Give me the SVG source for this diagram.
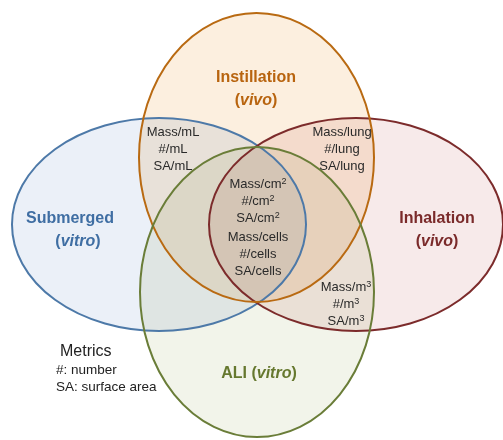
<svg xmlns="http://www.w3.org/2000/svg" width="503" height="440" viewBox="0 0 503 440">
<style>
.fill{stroke:none;mix-blend-mode:multiply}
.edge{fill:none;stroke-width:2}
.t{font-family:"Liberation Sans",Arial,sans-serif;font-size:13px;fill:#2a2a2a;text-anchor:middle}
.h{font-family:"Liberation Sans",Arial,sans-serif;font-size:16px;font-weight:bold;text-anchor:middle}
.m{font-family:"Liberation Sans",Arial,sans-serif;fill:#222}
</style>
<rect width="503" height="440" fill="#ffffff"/>
<g id="fills">
<ellipse class="fill" cx="159" cy="224.5" rx="147" ry="106.5" fill="#ebf0f8"/>
<ellipse class="fill" cx="356" cy="224.5" rx="147" ry="106.5" fill="#f7eaea"/>
<ellipse class="fill" cx="256.5" cy="157.5" rx="117.5" ry="144.5" fill="#fcefdf"/>
<ellipse class="fill" cx="257" cy="292" rx="117" ry="145" fill="#f2f4ea"/>
</g>
<g id="submerged">
<ellipse class="edge" cx="159" cy="224.5" rx="147" ry="106.5" stroke="#4d79a8"/>
<text class="h" x="70" y="223" fill="#3f6ea3">Submerged</text>
<text class="h" x="78" y="246" fill="#3f6ea3">(<tspan font-style="italic">vitro</tspan>)</text>
</g>
<g id="inhalation">
<ellipse class="edge" cx="356" cy="224.5" rx="147" ry="106.5" stroke="#7c2b2b"/>
<text class="h" x="437" y="223" fill="#7a2a2a">Inhalation</text>
<text class="h" x="437" y="246" fill="#7a2a2a">(<tspan font-style="italic">vivo</tspan>)</text>
</g>
<g id="instillation">
<ellipse class="edge" cx="256.5" cy="157.5" rx="117.5" ry="144.5" stroke="#b96a12"/>
<text class="h" x="256" y="82" fill="#b8640f">Instillation</text>
<text class="h" x="256" y="105" fill="#b8640f">(<tspan font-style="italic">vivo</tspan>)</text>
</g>
<g id="ali">
<ellipse class="edge" cx="257" cy="292" rx="117" ry="145" stroke="#6a7d38"/>
<text class="h" x="259" y="378" fill="#66782f">ALI (<tspan font-style="italic">vitro</tspan>)</text>
</g>
<g id="labels">
<text class="t" x="173" y="136">Mass/mL</text>
<text class="t" x="173" y="153">#/mL</text>
<text class="t" x="173" y="170">SA/mL</text>
<text class="t" x="342" y="136">Mass/lung</text>
<text class="t" x="342" y="153">#/lung</text>
<text class="t" x="342" y="170">SA/lung</text>
<text class="t" x="258" y="188">Mass/cm<tspan font-size="9" dy="-4">2</tspan></text>
<text class="t" x="258" y="205">#/cm<tspan font-size="9" dy="-4">2</tspan></text>
<text class="t" x="258" y="222">SA/cm<tspan font-size="9" dy="-4">2</tspan></text>
<text class="t" x="258" y="241">Mass/cells</text>
<text class="t" x="258" y="258">#/cells</text>
<text class="t" x="258" y="275">SA/cells</text>
<text class="t" x="346" y="291">Mass/m<tspan font-size="9" dy="-4">3</tspan></text>
<text class="t" x="346" y="308">#/m<tspan font-size="9" dy="-4">3</tspan></text>
<text class="t" x="346" y="325">SA/m<tspan font-size="9" dy="-4">3</tspan></text>
</g>
<g id="metrics">
<text class="m" x="60" y="356" font-size="16">Metrics</text>
<text class="m" x="56" y="374" font-size="13.5">#: number</text>
<text class="m" x="56" y="391" font-size="13.5">SA: surface area</text>
</g>
</svg>
